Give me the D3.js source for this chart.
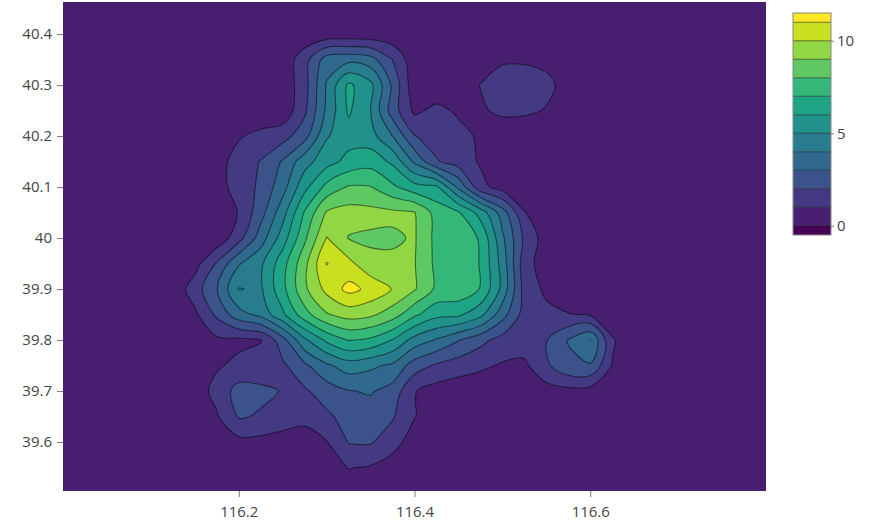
<!DOCTYPE html>
<html>
<head>
<meta charset="utf-8">
<script src="https://cdn.jsdelivr.net/npm/d3@7"></script>
<style>
  body { margin: 0; background: #fff; }
  svg { display: block; font-family: "Open Sans", sans-serif; }
</style>
</head>
<body>
<svg id="chart" width="876" height="526"></svg>
<script>
// Grid longitudes (columns) and latitudes (rows, north to south)
const LONS = [116.100, 116.125, 116.150, 116.175, 116.200, 116.225, 116.250, 116.275,
              116.300, 116.325, 116.350, 116.375, 116.400, 116.425, 116.450, 116.475,
              116.500, 116.525, 116.550, 116.575, 116.600, 116.625, 116.650, 116.675];
const LATS = [40.40, 40.35, 40.30, 40.25, 40.20, 40.15, 40.10, 40.05, 40.00, 39.95,
              39.90, 39.85, 39.80, 39.75, 39.70, 39.65, 39.60, 39.55, 39.50];

// Density values, one row per latitude
const Z = [
  [0.1,0.1,0.1,0.1,0.1,0.1,0.1,0.25,0.35,0.35,0.35,0.25,0.1,0.1,0.1,0.1,0.2,0.2,0.1,0.1,0.1,0.1,0.1,0.1],
  [0.1,0.1,0.1,0.1,0.1,0.1,0.3,1.6,3.5,3.7,3.4,2.0,0.3,0.2,0.3,0.6,0.9,0.9,0.8,0.3,0.1,0.1,0.1,0.1],
  [0.1,0.1,0.1,0.1,0.1,0.1,0.3,1.6,4.1,6.2,5.3,2.8,0.3,0.3,0.5,1.02,1.35,1.4,1.2,0.7,0.2,0.1,0.1,0.1],
  [0.1,0.1,0.1,0.1,0.1,0.2,0.3,1.8,4.2,6.15,5.0,2.5,0.8,1.25,0.85,0.9,1.15,1.15,0.95,0.4,0.2,0.1,0.1,0.1],
  [0.1,0.1,0.1,0.3,0.9,1.3,1.6,2.6,4.9,5.6,5.4,4.0,2.05,1.5,1.3,0.85,0.5,0.4,0.3,0.2,0.1,0.1,0.1,0.1],
  [0.1,0.1,0.1,0.6,1.4,2.05,3.1,4.6,5.6,6.3,6.6,5.8,3.8,2.1,1.5,0.9,0.4,0.2,0.1,0.1,0.1,0.1,0.1,0.1],
  [0.1,0.1,0.1,0.6,1.4,2.2,3.6,5.7,7.3,8.1,8.05,7.2,6.4,6.2,3.8,1.3,0.6,0.3,0.1,0.1,0.1,0.1,0.1,0.1],
  [0.1,0.1,0.1,0.3,1.05,2.6,4.6,7.1,9.1,9.4,9.3,9.2,9.05,7.6,7.1,5.6,3.5,1.05,0.4,0.1,0.1,0.1,0.1,0.1],
  [0.1,0.1,0.1,0.3,1.6,3.5,5.5,7.8,10.05,8.95,8.85,8.85,9.1,7.7,7.6,6.9,4.2,1.8,0.5,0.2,0.1,0.1,0.1,0.1],
  [0.1,0.2,0.6,2.1,3.9,4.8,6.6,8.7,11.05,10.3,9.25,9.2,9.05,7.75,7.65,6.95,4.6,1.4,0.5,0.2,0.1,0.1,0.1,0.1],
  [0.1,0.3,1.5,2.95,5.05,4.85,6.7,8.8,10.3,11.3,10.75,9.95,9.1,7.8,7.7,6.95,4.7,1.6,0.8,0.3,0.1,0.1,0.1,0.1],
  [0.1,0.1,0.8,2.2,3.6,4.3,5.8,7.6,8.9,9.4,9.2,8.5,7.2,6.3,6.2,5.3,3.4,1.6,1.25,1.05,0.9,0.4,0.1,0.1],
  [0.1,0.1,0.4,0.8,0.8,0.95,2.6,4.8,6.2,7.05,6.8,5.95,4.6,3.9,3.05,2.3,1.6,1.5,1.95,3.05,4.02,1.1,0.4,0.1],
  [0.1,0.1,0.3,0.9,1.2,1.4,1.8,2.8,3.8,4.5,4.2,3.8,2.5,1.85,1.5,1.2,0.9,0.8,1.8,2.8,2.9,0.95,0.3,0.1],
  [0.1,0.1,0.5,1.3,2.4,2.2,1.95,1.85,2.5,2.95,3.1,2.6,1.05,0.6,0.4,0.3,0.2,0.2,0.6,0.7,0.6,0.3,0.1,0.1],
  [0.1,0.1,0.2,0.9,2.1,1.9,1.5,1.3,1.8,2.4,2.5,2.1,1.05,0.4,0.2,0.1,0.1,0.1,0.1,0.1,0.1,0.1,0.1,0.1],
  [0.1,0.1,0.1,0.3,0.7,0.7,0.6,0.5,0.95,2.05,2.1,1.4,0.5,0.2,0.1,0.1,0.1,0.1,0.1,0.1,0.1,0.1,0.1,0.1],
  [0.1,0.1,0.1,0.1,0.1,0.1,0.1,0.1,0.4,1.05,0.9,0.5,0.2,0.1,0.1,0.1,0.1,0.1,0.1,0.1,0.1,0.1,0.1,0.1],
  [0.1,0.1,0.1,0.1,0.1,0.1,0.1,0.1,0.1,0.1,0.1,0.1,0.1,0.1,0.1,0.1,0.1,0.1,0.1,0.1,0.1,0.1,0.1,0.1]
];

// Contour levels (start 0, size 1) and tick labels
const LEVELS   = [0, 1, 2, 3, 4, 5, 6, 7, 8, 9, 10, 11];
const X_TICKS  = [116.2, 116.4, 116.6];
const Y_TICKS  = [39.6, 39.7, 39.8, 39.9, 40.0, 40.1, 40.2, 40.3, 40.4];
const CB_TICKS = [0, 5, 10];

const svg = d3.select('#chart');
const plot = { left: 63, right: 766, top: 2, bottom: 491 };

const x = d3.scaleLinear().domain([116.0, 116.8]).range([plot.left, plot.right]);
const y = d3.scaleLinear().domain([39.504, 40.463]).range([plot.bottom, plot.top]);

// band colour for region >= level v  (viridis over -0.5 .. 11.5 in 12 steps)
const color = d3.scaleSequential(d3.interpolateViridis).domain([-1, 11]);

svg.append('defs').append('clipPath').attr('id', 'plot-clip')
  .append('rect')
  .attr('x', plot.left).attr('y', plot.top)
  .attr('width', plot.right - plot.left).attr('height', plot.bottom - plot.top);

const g = svg.append('g').attr('clip-path', 'url(#plot-clip)');

// background = lowest band
g.append('rect')
  .attr('x', plot.left).attr('y', plot.top)
  .attr('width', plot.right - plot.left).attr('height', plot.bottom - plot.top)
  .attr('fill', color(LEVELS[0]));

// Contours
const nx = LONS.length, ny = LATS.length;
const gx = d3.scaleLinear().domain([0, nx - 1]).range([LONS[0], LONS[nx - 1]]);
const gy = d3.scaleLinear().domain([0, ny - 1]).range([LATS[0], LATS[ny - 1]]);

const bands = d3.contours()
  .size([nx, ny])
  .thresholds(LEVELS.slice(1))(Z.flat());

const smooth = d3.line().curve(d3.curveCatmullRomClosed.alpha(0.5));

function ringPath(ring) {
  const pts = ring.slice(0, -1).map(([a, b]) => [x(gx(a - 0.5)), y(gy(b - 0.5))]);
  return smooth(pts);
}

bands.forEach(b => {
  const d = b.coordinates.map(poly => poly.map(ringPath).join('')).join('');
  if (!d) return;
  g.append('path')
    .attr('d', d)
    .attr('fill', color(b.value))
    .attr('fill-rule', 'evenodd')
    .attr('stroke', '#000')
    .attr('stroke-opacity', 0.5)
    .attr('stroke-width', 1.1);
});

// Axes
const xAxis = svg.append('g')
  .attr('transform', `translate(0,${plot.bottom})`)
  .call(d3.axisBottom(x).tickValues(X_TICKS).tickSize(6).tickPadding(9)
    .tickFormat(d3.format('.1f')));

const yAxis = svg.append('g')
  .attr('transform', `translate(${plot.left},0)`)
  .call(d3.axisLeft(y).tickValues(Y_TICKS).tickSize(6).tickPadding(5)
    .tickFormat(d => String(+d.toFixed(1))));

[xAxis, yAxis].forEach(ax => {
  ax.select('.domain').remove();
  ax.selectAll('line').attr('stroke', '#777');
  ax.selectAll('text')
    .attr('fill', '#444').attr('font-size', 15)
    .attr('font-family', '"Open Sans", sans-serif');
});

// Colour bar
const cb = { x: 793, w: 38, top: 13, bottom: 235 };
const cy = d3.scaleLinear().domain([-0.5, 11.5]).range([cb.bottom, cb.top]);
const cbEdges = [-0.5, ...LEVELS, 11.5];

const cbg = svg.append('g');
d3.pairs(cbEdges).forEach(([lo, hi]) => {
  cbg.append('rect')
    .attr('x', cb.x).attr('y', cy(hi))
    .attr('width', cb.w).attr('height', cy(lo) - cy(hi))
    .attr('fill', color(lo < 0 ? -1 : lo));
});
LEVELS.forEach(v => {
  cbg.append('line')
    .attr('x1', cb.x).attr('x2', cb.x + cb.w)
    .attr('y1', cy(v)).attr('y2', cy(v))
    .attr('stroke', '#000').attr('stroke-opacity', 0.5).attr('stroke-width', 1.1);
});
cbg.append('rect')
  .attr('x', cb.x).attr('y', cb.top)
  .attr('width', cb.w).attr('height', cb.bottom - cb.top)
  .attr('fill', 'none').attr('stroke', '#888').attr('stroke-width', 1);

const cbAxis = svg.append('g')
  .attr('transform', `translate(${cb.x + cb.w},0)`)
  .call(d3.axisRight(cy).tickValues(CB_TICKS).tickSize(3).tickPadding(3));
cbAxis.select('.domain').remove();
cbAxis.selectAll('line').attr('stroke', '#777');
cbAxis.selectAll('text')
  .attr('fill', '#444').attr('font-size', 15)
  .attr('font-family', '"Open Sans", sans-serif');
</script>
</body>
</html>
